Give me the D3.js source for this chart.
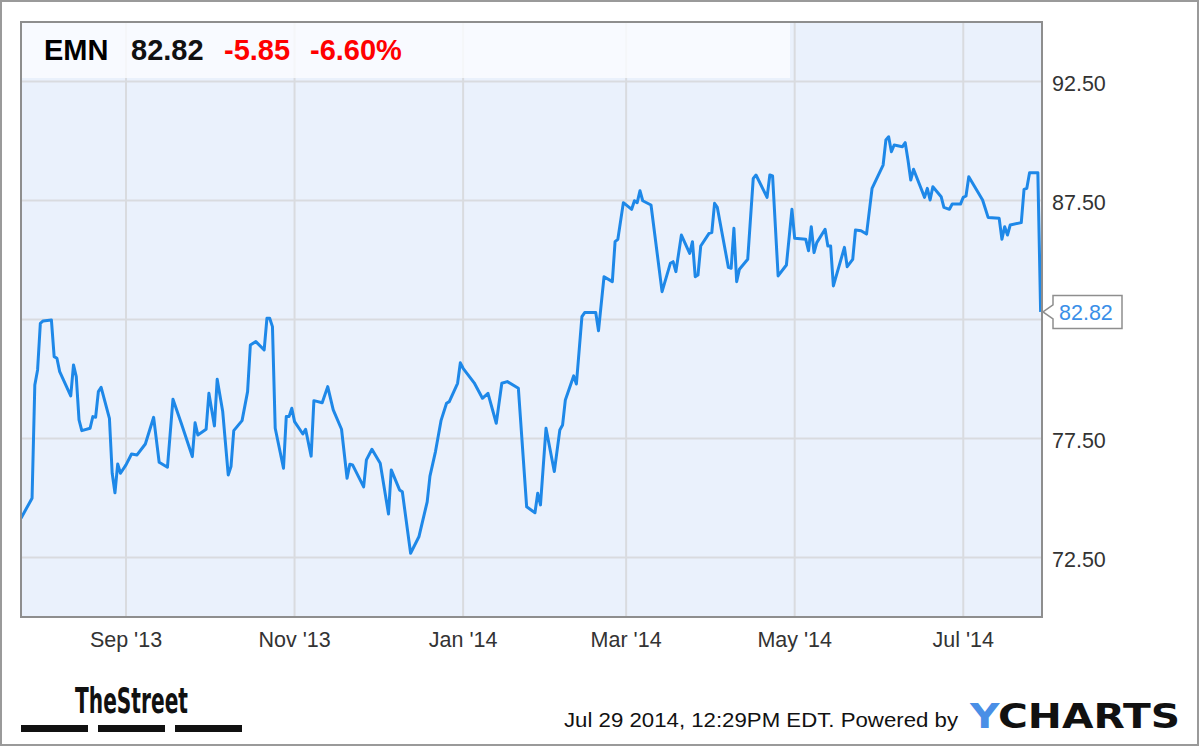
<!DOCTYPE html>
<html><head><meta charset="utf-8">
<script src="https://cdn.jsdelivr.net/npm/d3@7"></script>
<style>body{margin:0;background:#fff}svg{display:block;font-family:"Liberation Sans",Arial,Helvetica,sans-serif}</style>
</head><body><svg id="c" width="1200" height="747"></svg>
<script>
const ticker = "EMN", lastPrice = "82.82", change = "-5.85", changePct = "-6.60%";
const dates = [
"2013-07-25","2013-07-29","2013-07-30","2013-07-31","2013-08-01","2013-08-02","2013-08-05","2013-08-06","2013-08-07","2013-08-08",
"2013-08-12","2013-08-13","2013-08-14","2013-08-15","2013-08-16","2013-08-19","2013-08-20","2013-08-21","2013-08-22","2013-08-23",
"2013-08-26","2013-08-27","2013-08-28","2013-08-29","2013-08-30","2013-09-01","2013-09-03","2013-09-05","2013-09-08","2013-09-11",
"2013-09-13","2013-09-16","2013-09-18","2013-09-21","2013-09-25","2013-09-26","2013-09-27","2013-09-30","2013-10-01","2013-10-03",
"2013-10-04","2013-10-06","2013-10-08","2013-10-09","2013-10-10","2013-10-13","2013-10-15","2013-10-16","2013-10-18","2013-10-21",
"2013-10-22","2013-10-23","2013-10-24","2013-10-25","2013-10-28","2013-10-29","2013-10-30","2013-10-31","2013-11-01","2013-11-04",
"2013-11-05","2013-11-07","2013-11-08","2013-11-11","2013-11-13","2013-11-15","2013-11-18","2013-11-20","2013-11-21","2013-11-22",
"2013-11-26","2013-11-27","2013-11-29","2013-12-02","2013-12-05","2013-12-06","2013-12-09","2013-12-10","2013-12-13","2013-12-16",
"2013-12-19","2013-12-20","2013-12-22","2013-12-24","2013-12-26","2013-12-27","2013-12-30","2013-12-31","2014-01-01","2014-01-05",
"2014-01-08","2014-01-10","2014-01-13","2014-01-15","2014-01-17","2014-01-21","2014-01-24","2014-01-27","2014-01-28","2014-01-29",
"2014-01-31","2014-02-03","2014-02-05","2014-02-06","2014-02-07","2014-02-10","2014-02-11","2014-02-13","2014-02-14","2014-02-18",
"2014-02-19","2014-02-21","2014-02-24","2014-02-25","2014-02-26","2014-02-28","2014-03-03","2014-03-04","2014-03-05","2014-03-06",
"2014-03-07","2014-03-10","2014-03-14","2014-03-17","2014-03-18","2014-03-19","2014-03-21","2014-03-24","2014-03-25","2014-03-26",
"2014-03-27","2014-03-28","2014-03-31","2014-04-01","2014-04-02","2014-04-03","2014-04-07","2014-04-08","2014-04-09","2014-04-10",
"2014-04-11","2014-04-14","2014-04-16","2014-04-17","2014-04-21","2014-04-22","2014-04-23","2014-04-25","2014-04-28","2014-04-30",
"2014-05-01","2014-05-05","2014-05-06","2014-05-07","2014-05-08","2014-05-09","2014-05-12","2014-05-13","2014-05-14","2014-05-15",
"2014-05-19","2014-05-20","2014-05-22","2014-05-23","2014-05-25","2014-05-27","2014-05-29","2014-06-02","2014-06-03","2014-06-04",
"2014-06-05","2014-06-06","2014-06-09","2014-06-10","2014-06-11","2014-06-12","2014-06-13","2014-06-17","2014-06-18","2014-06-19",
"2014-06-20","2014-06-23","2014-06-24","2014-06-26","2014-06-27","2014-06-30","2014-07-01","2014-07-02","2014-07-03","2014-07-08",
"2014-07-10","2014-07-14","2014-07-15","2014-07-16","2014-07-17","2014-07-18","2014-07-22","2014-07-23","2014-07-24","2014-07-25",
"2014-07-28","2014-07-29"];
const prices = [
74.15,74.99,79.75,80.38,82.34,82.44,82.48,80.94,80.87,80.31,
79.29,80.59,80.10,78.28,77.83,77.93,78.42,78.39,79.47,79.65,
78.35,76.04,75.22,76.43,76.04,76.39,76.85,76.81,77.27,78.39,
76.50,76.29,79.15,78.14,76.74,78.16,77.65,77.89,79.40,78.03,
79.99,78.63,75.97,76.32,77.83,78.25,79.47,81.43,81.57,81.22,
82.55,82.55,82.20,77.93,76.25,78.42,78.42,78.77,78.21,77.69,
77.89,76.76,79.09,79.00,79.68,78.70,77.89,75.83,76.42,76.39,
75.47,76.60,77.05,76.46,74.33,76.18,75.34,75.26,72.68,73.37,
74.84,75.92,76.95,78.25,78.98,79.05,79.82,80.68,80.45,79.84,
79.19,79.40,78.14,79.82,79.89,79.61,74.63,74.38,75.20,74.71,
77.93,76.11,77.86,78.07,79.12,80.13,79.79,82.62,82.79,82.79,
82.03,84.30,84.09,85.77,85.87,87.41,87.13,87.49,87.41,87.91,
87.49,87.31,83.67,84.86,84.93,84.51,86.05,85.28,85.77,84.30,
84.37,85.59,86.12,86.15,87.38,87.21,84.69,84.65,86.33,84.09,
84.61,85.03,88.43,88.57,87.63,88.57,88.53,84.33,84.79,87.13,
85.91,85.87,85.39,86.40,85.31,85.73,86.29,85.59,85.59,83.91,
85.53,84.72,85.03,86.26,86.23,86.09,88.01,88.99,90.04,90.18,
89.55,89.83,89.76,89.93,89.20,88.36,88.81,87.63,88.01,87.52,
88.08,87.66,87.21,87.13,87.35,87.35,87.63,87.69,88.50,87.52,
86.79,86.75,85.87,86.40,86.05,86.47,86.57,87.97,88.01,88.67,
88.67,82.82];
const monthTicks = ["2013-09-01","2013-11-01","2014-01-01","2014-03-01","2014-05-01","2014-07-01"];
const monthLabels = ["Sep '13","Nov '13","Jan '14","Mar '14","May '14","Jul '14"];
const yTicks = [72.5, 77.5, 82.5, 87.5, 92.5];
const yTickLabels = ["72.50","77.50","82.50","87.50","92.50"];
const footerText = "Jul 29 2014, 12:29PM EDT.  Powered by";
const brandA = "TheStreet";
const brandY = "Y", brandRest = "CHARTS";

const parse = d3.timeParse("%Y-%m-%d");
const data = dates.map((d, i) => ({date: parse(d), value: prices[i]}));

const svg = d3.select("#c");
const L = 21, R = 1042, T = 22, B = 617;
const x = d3.scaleTime().domain([new Date(2013, 6, 25), new Date(2014, 6, 29, 12)]).range([L, R]);
const y = d3.scaleLinear().domain([70, 95]).range([B, T]);

// outer frame
svg.append("rect").attr("x", 1).attr("y", 1).attr("width", 1197).attr("height", 744)
  .attr("fill", "#fff").attr("stroke", "#9a9a9a").attr("stroke-width", 2);

// plot background
svg.append("rect").attr("x", L).attr("y", T).attr("width", R - L).attr("height", B - T).attr("fill", "#eaf1fc");

// gridlines
const grid = svg.append("g").attr("stroke", "#d9dbdf").attr("stroke-width", 2);
grid.selectAll("line.h").data(yTicks).join("line").attr("class", "h")
  .attr("x1", L).attr("x2", R).attr("y1", d => y(d)).attr("y2", d => y(d));
grid.selectAll("line.v").data(monthTicks).join("line").attr("class", "v")
  .attr("y1", T).attr("y2", B).attr("x1", d => x(parse(d))).attr("x2", d => x(parse(d)));

// header band
svg.append("rect").attr("x", L).attr("y", T).attr("width", 790 - L).attr("height", 78 - T)
  .attr("fill", "#fbfcff").attr("opacity", 0.8);

// line
svg.append("clipPath").attr("id", "clip").append("rect").attr("x", L).attr("y", T).attr("width", R - L).attr("height", B - T);
svg.append("path").datum(data).attr("clip-path", "url(#clip)")
  .attr("fill", "none").attr("stroke", "#1e88e8").attr("stroke-width", 3).attr("stroke-linejoin", "round")
  .attr("d", d3.line().x(d => x(d.date)).y(d => y(d.value)));

// plot border
svg.append("rect").attr("x", L).attr("y", T).attr("width", R - L).attr("height", B - T)
  .attr("fill", "none").attr("stroke", "#8e8e8e").attr("stroke-width", 2);

// last price marker position
const last = data[data.length - 1];
const ly = y(last.value);

// y axis labels (those hidden behind the last-price marker are skipped)
svg.append("g").selectAll("text").data(yTicks.filter(d => Math.abs(y(d) - ly) > 24)).join("text")
  .attr("x", 1052).attr("y", d => y(d) + 9).attr("font-size", 21.5).attr("fill", "#333")
  .text(d => yTickLabels[yTicks.indexOf(d)]);

// x axis labels
svg.append("g").selectAll("text").data(monthTicks).join("text")
  .attr("x", d => x(parse(d))).attr("y", 647).attr("text-anchor", "middle").attr("font-size", 21.5).attr("fill", "#333")
  .text((d, i) => monthLabels[i]);

// last price marker
const bx = R + 11, bw = 69, bh = 33;
svg.append("path")
  .attr("d", `M${R + 1},${ly} L${bx},${ly - 7} L${bx},${ly - bh / 2} L${bx + bw},${ly - bh / 2} L${bx + bw},${ly + bh / 2} L${bx},${ly + bh / 2} L${bx},${ly + 7} Z`)
  .attr("fill", "#fff").attr("stroke", "#8e8e8e").attr("stroke-width", 1.5);
svg.append("text").attr("x", bx + 6).attr("y", ly + 8).attr("font-size", 21.5).attr("fill", "#3a8fe8").text(lastPrice);

// header text
const hdr = svg.append("g").attr("font-weight", "bold").attr("font-size", 29);
hdr.append("text").attr("x", 44).attr("y", 60).attr("fill", "#000").text(ticker);
hdr.append("text").attr("x", 131).attr("y", 60).attr("fill", "#111").text(lastPrice);
hdr.append("text").attr("x", 224).attr("y", 60).attr("fill", "#f00").text(change);
hdr.append("text").attr("x", 310).attr("y", 60).attr("fill", "#f00").text(changePct);

// footer
svg.append("text").attr("x", 564).attr("y", 727).attr("font-size", 21).attr("fill", "#111")
  .attr("textLength", 394).attr("lengthAdjust", "spacingAndGlyphs").text(footerText);
const yc = svg.append("text").attr("x", 970).attr("y", 728).attr("font-size", 33).attr("font-weight", "bold")
  .attr("font-family", "'DejaVu Sans', 'Liberation Sans', sans-serif")
  .attr("textLength", 210).attr("lengthAdjust", "spacingAndGlyphs");
yc.append("tspan").attr("fill", "#4a8fe6").text(brandY);
yc.append("tspan").attr("fill", "#111").text(brandRest);

svg.append("text").attr("x", 75).attr("y", 713).attr("font-size", 35).attr("font-weight", "bold")
  .attr("font-family", "'Liberation Sans Narrow', 'DejaVu Sans Condensed', sans-serif").attr("fill", "#111")
  .attr("textLength", 113).attr("lengthAdjust", "spacingAndGlyphs").text(brandA);
svg.append("g").selectAll("rect").data([21, 98, 175]).join("rect")
  .attr("x", d => d).attr("y", 725).attr("width", 67).attr("height", 7).attr("fill", "#111");
</script></body></html>
